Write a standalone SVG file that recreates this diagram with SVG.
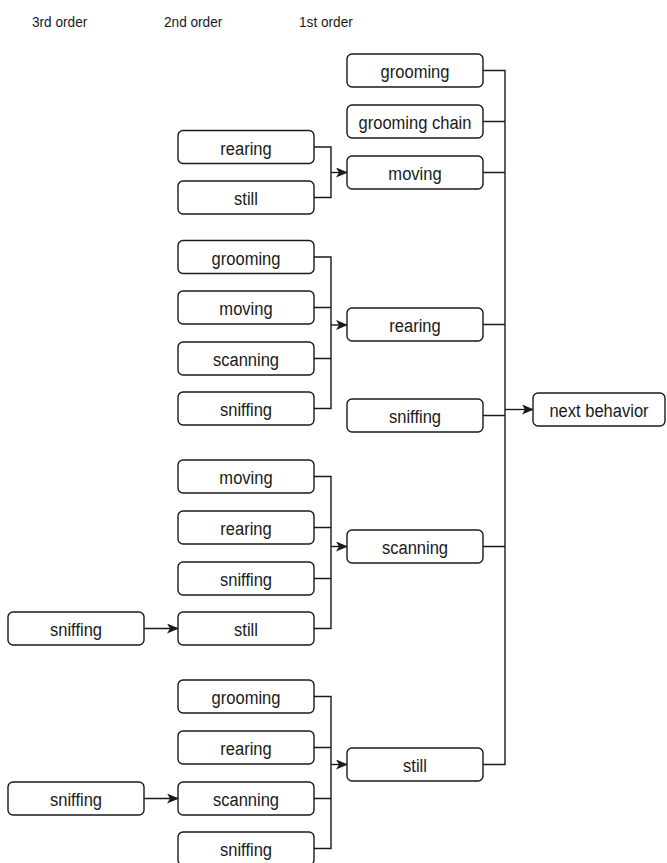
<svg xmlns="http://www.w3.org/2000/svg" width="667" height="863" viewBox="0 0 667 863">
  <style>
    .box use, .box rect { fill: #ffffff; stroke: #1a1a1a; stroke-width: 1.4; }
    .box text { font-family: "Liberation Sans", Arial, sans-serif; font-size: 19px; fill: #1a1a1a; text-anchor: middle; }
    .hdr { font-family: "Liberation Sans", Arial, sans-serif; font-size: 15.5px; fill: #1a1a1a; }
    .wire { fill: none; stroke: #1a1a1a; stroke-width: 1.4; }
  </style>
  <defs>
    <marker id="arrow" viewBox="0 0 12 10" refX="11" refY="5" markerWidth="12" markerHeight="10" markerUnits="userSpaceOnUse" orient="auto">
      <path d="M0,0 L12,5 L0,10 L3,5 Z" fill="#1a1a1a"/>
    </marker>
    <rect id="b" width="136" height="33" rx="5"/>
  </defs>
  <rect width="667" height="863" fill="#ffffff"/>

  <!-- column headers -->
  <text class="hdr" transform="translate(32,27) scale(0.88,1)">3rd order</text>
  <text class="hdr" transform="translate(164,27) scale(0.88,1)">2nd order</text>
  <text class="hdr" transform="translate(299,27) scale(0.88,1)">1st order</text>

  <!-- connectors -->
  <g id="connectors" class="wire">
    <!-- 2nd order -> moving -->
    <path d="M314,147 H331 V197.5 H314"/>
    <path d="M331,172.5 H347" marker-end="url(#arrow)"/>
    <!-- 2nd order -> rearing -->
    <path d="M314,257 H331 V408.5 H314 M314,307.5 H331 M314,358.5 H331"/>
    <path d="M331,325 H347" marker-end="url(#arrow)"/>
    <!-- 2nd order -> scanning -->
    <path d="M314,476.5 H331 V628.5 H314 M314,527.5 H331 M314,578.5 H331"/>
    <path d="M331,546.5 H347" marker-end="url(#arrow)"/>
    <!-- 2nd order -> still -->
    <path d="M314,696.5 H331 V848.5 H314 M314,747.5 H331 M314,798.5 H331"/>
    <path d="M331,764.5 H347" marker-end="url(#arrow)"/>
    <!-- 3rd order -> 2nd order -->
    <path d="M144,628.5 H178" marker-end="url(#arrow)"/>
    <path d="M144,798.5 H178" marker-end="url(#arrow)"/>
    <!-- 1st order -> next behavior -->
    <path d="M483,70.5 H505 V764.5 H483 M483,121.5 H505 M483,172.5 H505 M483,324.5 H505 M483,415.5 H505 M483,546.5 H505"/>
    <path d="M505,409.5 H533" marker-end="url(#arrow)"/>
  </g>

  <!-- 1st order -->
  <g id="o1-grooming" class="box"><use href="#b" x="347" y="54"/><text transform="translate(415,78) scale(0.87,1)">grooming</text></g>
  <g id="o1-grooming-chain" class="box"><use href="#b" x="347" y="105"/><text transform="translate(415,129) scale(0.87,1)">grooming chain</text></g>
  <g id="o1-moving" class="box"><use href="#b" x="347" y="156"/><text transform="translate(415,180) scale(0.87,1)">moving</text></g>
  <g id="o1-rearing" class="box"><use href="#b" x="347" y="308"/><text transform="translate(415,332) scale(0.87,1)">rearing</text></g>
  <g id="o1-sniffing" class="box"><use href="#b" x="347" y="399"/><text transform="translate(415,423) scale(0.87,1)">sniffing</text></g>
  <g id="o1-scanning" class="box"><use href="#b" x="347" y="530"/><text transform="translate(415,554) scale(0.87,1)">scanning</text></g>
  <g id="o1-still" class="box"><use href="#b" x="347" y="748"/><text transform="translate(415,772) scale(0.87,1)">still</text></g>

  <!-- 2nd order: before moving -->
  <g id="o2-moving-rearing" class="box"><use href="#b" x="178" y="130.5"/><text transform="translate(246,154.5) scale(0.87,1)">rearing</text></g>
  <g id="o2-moving-still" class="box"><use href="#b" x="178" y="181"/><text transform="translate(246,205) scale(0.87,1)">still</text></g>

  <!-- 2nd order: before rearing -->
  <g id="o2-rearing-grooming" class="box"><use href="#b" x="178" y="240.5"/><text transform="translate(246,264.5) scale(0.87,1)">grooming</text></g>
  <g id="o2-rearing-moving" class="box"><use href="#b" x="178" y="291"/><text transform="translate(246,315) scale(0.87,1)">moving</text></g>
  <g id="o2-rearing-scanning" class="box"><use href="#b" x="178" y="342"/><text transform="translate(246,366) scale(0.87,1)">scanning</text></g>
  <g id="o2-rearing-sniffing" class="box"><use href="#b" x="178" y="392"/><text transform="translate(246,416) scale(0.87,1)">sniffing</text></g>

  <!-- 2nd order: before scanning -->
  <g id="o2-scanning-moving" class="box"><use href="#b" x="178" y="460"/><text transform="translate(246,484) scale(0.87,1)">moving</text></g>
  <g id="o2-scanning-rearing" class="box"><use href="#b" x="178" y="511"/><text transform="translate(246,535) scale(0.87,1)">rearing</text></g>
  <g id="o2-scanning-sniffing" class="box"><use href="#b" x="178" y="562"/><text transform="translate(246,586) scale(0.87,1)">sniffing</text></g>
  <g id="o2-scanning-still" class="box"><use href="#b" x="178" y="612"/><text transform="translate(246,636) scale(0.87,1)">still</text></g>

  <!-- 2nd order: before still -->
  <g id="o2-still-grooming" class="box"><use href="#b" x="178" y="680"/><text transform="translate(246,704) scale(0.87,1)">grooming</text></g>
  <g id="o2-still-rearing" class="box"><use href="#b" x="178" y="731"/><text transform="translate(246,755) scale(0.87,1)">rearing</text></g>
  <g id="o2-still-scanning" class="box"><use href="#b" x="178" y="782"/><text transform="translate(246,806) scale(0.87,1)">scanning</text></g>
  <g id="o2-still-sniffing" class="box"><use href="#b" x="178" y="832"/><text transform="translate(246,856) scale(0.87,1)">sniffing</text></g>

  <!-- 3rd order -->
  <g id="o3-scanning-still-sniffing" class="box"><use href="#b" x="8" y="612"/><text transform="translate(76,636) scale(0.87,1)">sniffing</text></g>
  <g id="o3-still-scanning-sniffing" class="box"><use href="#b" x="8" y="782"/><text transform="translate(76,806) scale(0.87,1)">sniffing</text></g>

  <!-- target -->
  <g id="next-behavior" class="box"><rect x="533" y="393" width="132" height="33" rx="5"/><text transform="translate(599,417) scale(0.87,1)">next behavior</text></g>
</svg>
